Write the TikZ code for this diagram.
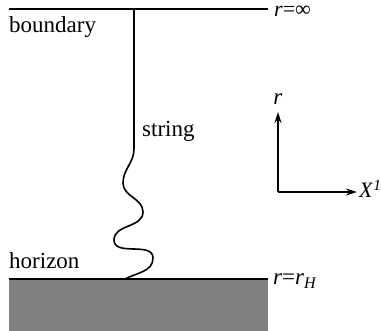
\documentclass[tikz,border=0pt]{standalone}
\usepackage{fontspec}
\setmainfont{Liberation Serif}
\usetikzlibrary{calc, positioning, arrows.meta}
\definecolor{slabgray}{HTML}{808080}
\tikzset{
  edge/.style={line width=1.6pt},
  lbl/.style={inner sep=0pt, font=\fontsize{23}{27}\selectfont},
  axis/.style={line width=1.6pt, -{Stealth[length=11pt, width=7pt]}}
}
\begin{document}
\begin{tikzpicture}[x=1pt, y=1pt]
  \useasboundingbox (0,0) rectangle (381,331);
  % horizon region
  \fill[slabgray] (9,0) rectangle (268,52);
  \coordinate (bl) at (9,322);
  \coordinate (br) at (268,322);
  \coordinate (hl) at (9,52);
  \coordinate (hr) at (268,52);
  \draw[edge] (bl) -- (br);
  \draw[edge] (hl) -- (hr);
  \node[lbl, anchor=base west] (bnd) at (9,298) {boundary};
  \node[lbl, anchor=base west] (hor) at (9,62) {horizon};
  \node[lbl, anchor=base west, font=\fontsize{22}{26}\selectfont] (inf) at (274,314) {\textit{r}=∞};
  \node[lbl, anchor=base west] (rh) at (273,46) {\textit{r}=\textit{r}\textsubscript{\textit{H}}};
  % the string
  \coordinate (top) at (134,322);
  \coordinate (foot) at (125,52);
  \draw[edge] (top) -- (134,182)
    to[out=-90, in=90] (123,148)
    to[out=-90, in=90] (143,119)
    to[out=-90, in=90] (114,91)
    to[out=-90, in=90] (153,73)
    to[out=-90, in=28] (foot);
  \node[lbl, anchor=base west] (str) at (142,194) {string};
  % axes
  \coordinate (o) at (278,139);
  \coordinate (up) at (278,219);
  \coordinate (rt) at (357,139);
  \draw[axis] (o) -- (up);
  \draw[axis] (o) -- (rt);
  \node[lbl, anchor=base] (ry) at (278,226) {\textit{r}};
  \node[lbl, anchor=base west, font=\fontsize{22}{26}\selectfont] (xx) at (359,133) {\textit{X}\textsuperscript{\textit{1}}};
\end{tikzpicture}
\end{document}
